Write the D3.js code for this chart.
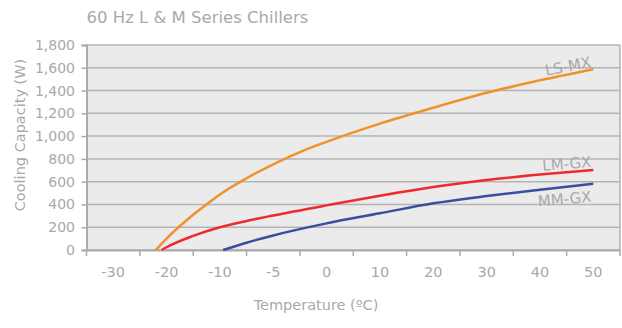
<!DOCTYPE html>
<html>
<head>
<meta charset="utf-8">
<script src="https://cdn.jsdelivr.net/npm/d3@7/dist/d3.min.js"></script>
<style>
  html, body { margin: 0; padding: 0; background: #fff; }
  svg { display: block; }
  text { font-family: "DejaVu Sans", sans-serif; fill: #a7a9ac; }
</style>
</head>
<body>
<svg id="chart" width="622" height="328"></svg>
<script>
// ---- data ----
const title = "60 Hz L & M Series Chillers";
const xTitle = "Temperature (ºC)";
const yTitle = "Cooling Capacity (W)";
const categories = ["-30", "-20", "-10", "-5", "0", "10", "20", "30", "40", "50"];
const categoryTemps = [-30, -20, -10, -5, 0, 10, 20, 30, 40, 50];
const yTicks = [0, 200, 400, 600, 800, 1000, 1200, 1400, 1600, 1800];

const seriesNames = ["LS-MX", "LM-GX", "MM-GX"];
const seriesColors = ["#f0922b", "#ee2a2d", "#3a4ea0"];
const lsmxTemps = [-22, -20, -15, -12.5, -10, -7.5, -5, -2.5, 0, 10, 20, 30, 40, 50];
const lsmxValues = [0, 100, 310, 400, 488, 630, 752, 860, 950, 1110, 1249, 1380, 1490, 1588];
const lmgxTemps = [-20.9, -20, -15, -10, -7.5, -5, 0, 10, 20, 30, 40, 50];
const lmgxValues = [0, 24, 124, 200, 255, 303, 392, 477, 553, 614, 662, 702];
const mmgxTemps = [-9.7, -7.5, -5, 0, 10, 20, 30, 40, 50];
const mmgxValues = [0, 64, 128, 234, 322, 410, 474, 530, 582];

// ---- layout ----
const svg = d3.select("#chart");
const mLeft = 86.5, mRight = 620, mTop = 45, mBottom = 250;
const axisColor = "#a9aaad", gridColor = "#b4b4b6", textColor = "#a7a9ac";

const xBand = d3.scaleBand().domain(categories).range([mLeft, mRight]).paddingInner(0).paddingOuter(0);
const bw = xBand.bandwidth();
const x = d3.scaleLinear()
  .domain(categoryTemps)
  .range(categories.map(c => xBand(c) + bw / 2));
const y = d3.scaleLinear().domain([0, 1800]).range([mBottom, mTop]);

// plot background
svg.append("rect")
  .attr("x", mLeft).attr("y", mTop)
  .attr("width", mRight - mLeft).attr("height", mBottom - mTop)
  .attr("fill", "#ebebeb");

// gridlines
svg.append("g").selectAll("line").data(yTicks).join("line")
  .attr("x1", mLeft).attr("x2", mRight)
  .attr("y1", d => y(d)).attr("y2", d => y(d))
  .attr("stroke", gridColor).attr("stroke-width", 1.5);

// right border
svg.append("line")
  .attr("x1", mRight).attr("x2", mRight).attr("y1", mTop).attr("y2", mBottom)
  .attr("stroke", gridColor).attr("stroke-width", 1.5);

// y axis
const yAxis = d3.axisLeft(y).tickValues(yTicks).tickFormat(d3.format(",")).tickSize(5).tickPadding(6.5);
const gy = svg.append("g").attr("transform", `translate(${mLeft},0)`).call(yAxis);
gy.select(".domain").attr("stroke", axisColor).attr("stroke-width", 2);
gy.selectAll(".tick line").attr("stroke", axisColor).attr("stroke-width", 1.5);
gy.selectAll(".tick text").style("font-size", "14px").attr("fill", textColor)
  .style("font-family", "'DejaVu Sans', sans-serif");

// x axis (labels centered in bands, ticks at boundaries)
const xAxis = d3.axisBottom(xBand).tickSize(0).tickPadding(16.7);
const gx = svg.append("g").attr("transform", `translate(0,${mBottom})`).call(xAxis);
gx.select(".domain").attr("stroke", axisColor).attr("stroke-width", 2);
gx.selectAll(".tick text").style("font-size", "14.5px").attr("fill", textColor)
  .style("font-family", "'DejaVu Sans', sans-serif");
const bounds = categories.map(c => xBand(c)).concat([xBand.range()[1]]);
svg.append("g").selectAll("line").data(bounds).join("line")
  .attr("x1", d => d).attr("x2", d => d)
  .attr("y1", mBottom).attr("y2", mBottom + 6)
  .attr("stroke", axisColor).attr("stroke-width", 1.5);

// lines
const line = d3.line().x(d => x(d[0])).y(d => y(d[1])).curve(d3.curveMonotoneX);
const series = [
  d3.zip(lsmxTemps, lsmxValues),
  d3.zip(lmgxTemps, lmgxValues),
  d3.zip(mmgxTemps, mmgxValues)
];
svg.append("g").selectAll("path").data(series).join("path")
  .attr("d", d => line(d))
  .attr("fill", "none")
  .attr("stroke", (d, i) => seriesColors[i])
  .attr("stroke-width", 2.5);

// series labels
const labelDy = [-2.3, -3.3, 18];
const labelRot = [-11, -5, -5];
series.forEach((s, i) => {
  const last = s[s.length - 1];
  svg.append("text")
    .attr("transform", `translate(${x(last[0]) - 1.5},${y(last[1]) + labelDy[i]}) rotate(${labelRot[i]})`)
    .attr("text-anchor", "end")
    .style("font-size", "15px")
    .text(seriesNames[i]);
});

// titles
svg.append("text")
  .attr("x", mLeft).attr("y", 23.3)
  .style("font-size", "16.5px")
  .attr("fill", "#9d9fa2")
  .text(title);

svg.append("text")
  .attr("x", 316).attr("y", 310)
  .attr("text-anchor", "middle")
  .style("font-size", "14.5px")
  .text(xTitle);

svg.append("text")
  .attr("transform", `translate(25,135) rotate(-90)`)
  .attr("text-anchor", "middle")
  .style("font-size", "14.5px")
  .text(yTitle);
</script>
</body>
</html>
